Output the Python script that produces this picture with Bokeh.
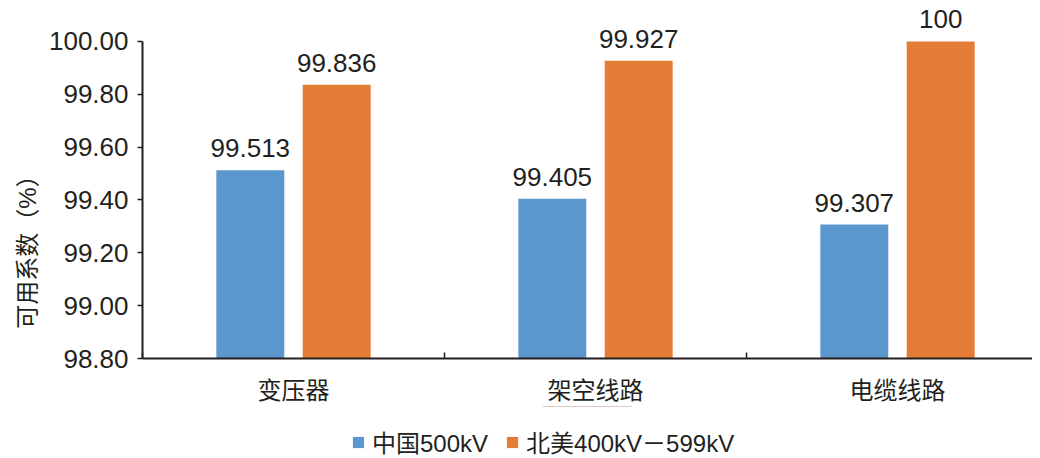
import numpy as np
from bokeh.plotting import figure
from bokeh.layouts import column
from bokeh.models import (ColumnDataSource, Range1d, FixedTicker, LabelSet, Legend,
                          LegendItem, PrintfTickFormatter)
from bokeh.core.properties import value
from bokeh.transform import dodge
from bokeh.embed import file_html
from bokeh.resources import INLINE

categories = ["变压器", "架空线路", "电缆线路"]
china_500kv = [99.513, 99.405, 99.307]
na_400_599kv = [99.836, 99.927, 100.0]
series_names = ["中国500kV", "北美400kV－599kV"]
y_ticks = [98.8, 99.0, 99.2, 99.4, 99.6, 99.8, 100.0]
y_label = "可用系数（%）"

FONT = "Liberation Sans, 'Noto Sans CJK SC'"
TXT = "#231f20"
BLUE = "#5b96cd"
ORANGE = "#e57c36"

xs = np.arange(len(categories)) + 0.5
src = ColumnDataSource(dict(
    x=xs,
    china=china_500kv,
    na=na_400_599kv,
    china_lbl=[f"{v:g}" for v in china_500kv],
    na_lbl=[f"{v:g}" for v in na_400_599kv],
))

W = 1032
p = figure(width=W, height=406, output_backend="svg", toolbar_location=None,
           x_range=Range1d(0, 890 / 302), y_range=Range1d(98.8, 100.1514),
           min_border_left=142, min_border_right=0, min_border_top=1, min_border_bottom=48)
p.outline_line_color = None
p.xgrid.visible = False
p.ygrid.visible = False
p.background_fill_color = "white"

r1 = p.vbar(x=dodge("x", -0.143, range=p.x_range), top="china", bottom=98.8, width=0.225,
            source=src, fill_color=BLUE, line_color=None)
r2 = p.vbar(x=dodge("x", 0.143, range=p.x_range), top="na", bottom=98.8, width=0.225,
            source=src, fill_color=ORANGE, line_color=None)

for col, lbl, off in (("china", "china_lbl", -0.143), ("na", "na_lbl", 0.143)):
    ls = LabelSet(x=dodge("x", off, range=p.x_range), y=col, text=lbl, source=src,
                  text_align="center", text_baseline="alphabetic", y_offset=13,
                  text_font=value("Liberation Sans"), text_font_size="26px", text_color=TXT)
    p.add_layout(ls)

# y axis
ya = p.yaxis[0]
ya.ticker = FixedTicker(ticks=y_ticks)
ya.formatter = PrintfTickFormatter(format="%.2f")
ya.bounds = (98.8, 100.0)
ya.axis_line_color = TXT
ya.axis_line_width = 2
ya.major_tick_line_color = TXT
ya.major_tick_line_width = 1.5
ya.major_tick_out = 5
ya.major_tick_in = 0
ya.minor_tick_line_color = None
ya.major_label_text_font = FONT
ya.major_label_text_font_size = "26px"
ya.major_label_text_color = TXT
ya.major_label_standoff = 9
# ideographic spaces shift the visible title towards the bottom, as in the reference
ya.axis_label = y_label + "\u3000" * 6
ya.axis_label_text_font = FONT
ya.axis_label_text_font_size = "24px"
ya.axis_label_text_font_style = "normal"
ya.axis_label_text_color = TXT
ya.axis_label_standoff = 5

# x axis
xa = p.xaxis[0]
xa.ticker = FixedTicker(ticks=list(xs), minor_ticks=list(np.arange(len(categories) + 1)))
xa.major_label_overrides = {float(x): c for x, c in zip(xs, categories)}
xa.axis_line_color = TXT
xa.axis_line_width = 2
xa.major_tick_line_color = None
xa.minor_tick_line_color = TXT
xa.minor_tick_line_width = 1.5
xa.minor_tick_in = 6
xa.minor_tick_out = 0
xa.major_tick_in = 0
xa.major_tick_out = 0
xa.major_label_text_font = FONT
xa.major_label_text_font_size = "24px"
xa.major_label_text_color = TXT
xa.major_label_standoff = 18

# legend strip (series bars drawn above this strip's visible range, only their swatches show)
p2 = figure(width=W, height=50, output_backend="svg", toolbar_location=None,
            x_range=Range1d(0, 1), y_range=Range1d(0, 1),
            x_axis_location=None, y_axis_location=None,
            min_border_left=0, min_border_right=0, min_border_top=0, min_border_bottom=0)
p2.outline_line_color = None
p2.xgrid.visible = False
p2.ygrid.visible = False
l1 = p2.vbar(x="x", top="china", bottom=98.8, width=0.1, source=src,
             fill_color=BLUE, line_color=None)
l2 = p2.vbar(x="x", top="na", bottom=98.8, width=0.1, source=src,
             fill_color=ORANGE, line_color=None)
legend = Legend(items=[LegendItem(label=series_names[0], renderers=[l1]),
                       LegendItem(label=series_names[1], renderers=[l2])],
                location=(209, -3), orientation="horizontal",
                glyph_width=14, glyph_height=14, label_standoff=7, spacing=17,
                padding=0, margin=0, border_line_color=None, background_fill_alpha=0,
                label_text_font=FONT, label_text_font_size="24px", label_text_color=TXT)
p2.add_layout(legend, "center")

open("out.html", "w").write(file_html(column(p, p2, spacing=0), INLINE))
